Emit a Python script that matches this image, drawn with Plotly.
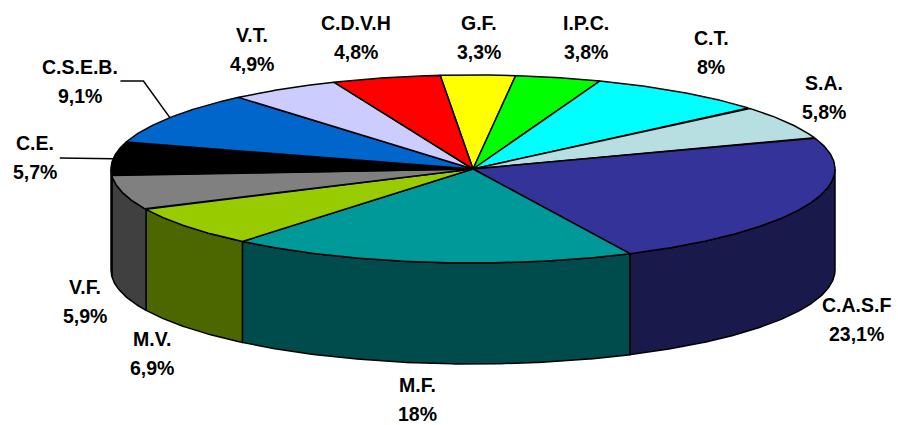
import numpy as np
import plotly.graph_objects as go

# ---------------- data ----------------
categories = ["G.F.", "I.P.C.", "C.T.", "S.A.", "C.A.S.F", "M.F.",
              "M.V.", "V.F.", "C.E.", "C.S.E.B.", "V.T.", "C.D.V.H"]
values = [3.3, 3.8, 8, 5.8, 23.1, 18, 6.9, 5.9, 5.7, 9.1, 4.9, 4.8]
colors = ["#FFFF00", "#00FF00", "#00FFFF", "#B7DEE0", "#333399", "#009999",
          "#99CC00", "#808080", "#000000", "#0066CC", "#CCCCFF", "#FF0000"]

# ---------------- layout / geometry (pixels) ----------------
W, H = 898, 425
CX, CY = 473, 169          # centre of top ellipse
A, B = 362, 94             # semi axes of top ellipse
DEPTH = 101                # thickness of the pie
START = -5.2               # rotation of first slice (deg, clockwise from 12 o'clock)
RX, RY = 415, 137          # label ring
TOP_LIMIT = 37.5           # labels clamped to chart area top
FONT = "Liberation Sans, Arial, sans-serif"
FSIZE = 19.5
LINE_GAP = 14.5
label_nudge = {"I.P.C.": (15, 0), "C.T.": (0, -4), "S.A.": (-9, -3),
               "C.A.S.F": (0, -3), "M.F.": (-5, -6), "M.V.": (6, -1),
               "V.F.": (13, -3), "C.E.": (-26, 4), "C.S.E.B.": (-46, -13),
               "V.T.": (-4, -3), "C.D.V.H": (-17, 0)}
leader = {"C.E.", "C.S.E.B."}


def darken(hexc, f=0.5):
    r, g, b = (int(hexc[i:i + 2], 16) for i in (1, 3, 5))
    return "#%02X%02X%02X" % (int(r * f), int(g * f), int(b * f))


def ell(theta_deg, dy=0.0):
    t = np.radians(theta_deg)
    return CX + A * np.sin(t), CY - B * np.cos(t) + dy


def text_width(s):
    w = {".": 0.278, ",": 0.278, "%": 0.889, "C": 0.722, "B": 0.722,
         "E": 0.667, "S": 0.667, "F": 0.611, "T": 0.611, "V": 0.667,
         "A": 0.722, "G": 0.778, "M": 0.833, "P": 0.667, "I": 0.278,
         "D": 0.722, "H": 0.722}
    return sum(w.get(c, 0.556) for c in s) * FSIZE


total = sum(values)
spans = [v / total * 360 for v in values]
starts = START + np.concatenate([[0], np.cumsum(spans)[:-1]])
ends = starts + np.array(spans)

fig = go.Figure()

# side walls (front half only: 90..270 deg)
for cat, col, t1, t2 in zip(categories, colors, starts, ends):
    lo, hi = max(t1, 90), min(t2, 270)
    if lo >= hi:
        continue
    th = np.linspace(lo, hi, max(int((hi - lo) * 3), 4))
    xt, yt = ell(th)
    xb, yb = ell(th[::-1], DEPTH)
    xs = np.concatenate([xt, xb, xt[:1]])
    ys = np.concatenate([yt, yb, yt[:1]])
    fig.add_trace(go.Scatter(x=xs, y=ys, mode="lines", fill="toself",
                             fillcolor=darken(col), line=dict(color="black", width=1.5),
                             hoverinfo="skip", showlegend=False))

# top faces
for cat, col, t1, t2 in zip(categories, colors, starts, ends):
    th = np.linspace(t1, t2, max(int((t2 - t1) * 3), 4))
    xa, ya = ell(th)
    xs = np.concatenate([[CX], xa, [CX]])
    ys = np.concatenate([[CY], ya, [CY]])
    fig.add_trace(go.Scatter(x=xs, y=ys, mode="lines", fill="toself",
                             fillcolor=col, line=dict(color="black", width=1.5),
                             hoverinfo="skip", showlegend=False))

# labels
annotations = []
for cat, v, t1, t2 in zip(categories, values, starts, ends):
    mid = (t1 + t2) / 2
    t = np.radians(mid)
    lx = CX + RX * np.sin(t)
    ly = CY - RY * np.cos(t) + (DEPTH if np.cos(t) < 0 else 0)
    ly = max(ly, TOP_LIMIT)
    dx, dy = label_nudge.get(cat, (0, 0))
    lx, ly = lx + dx, ly + dy
    pct = ("%g" % v).replace(".", ",") + "%"
    for txt, yy in ((cat, ly - LINE_GAP), (pct, ly + LINE_GAP)):
        annotations.append(dict(x=lx, y=yy, xref="x", yref="y", text="<b>%s</b>" % txt,
                                showarrow=False, xanchor="center", yanchor="middle",
                                font=dict(family=FONT, size=FSIZE, color="black")))
    if cat in leader:
        right = lx + max(text_width(cat), text_width(pct)) / 2 + 3
        ex, ey = ell(mid)
        fig.add_trace(go.Scatter(x=[right, right + 23, ex], y=[ly, ly, ey], mode="lines",
                                 line=dict(color="black", width=1.5),
                                 hoverinfo="skip", showlegend=False))

fig.update_layout(
    width=W, height=H, margin=dict(l=0, r=0, t=0, b=0),
    paper_bgcolor="white", plot_bgcolor="white",
    xaxis=dict(range=[0, W], visible=False, fixedrange=True),
    yaxis=dict(range=[H, 0], visible=False, fixedrange=True),
    annotations=annotations,
)

fig.write_html("out.html", config={"displayModeBar": False},
               post_script="document.body.style.margin='0';document.body.style.overflow='hidden';")
